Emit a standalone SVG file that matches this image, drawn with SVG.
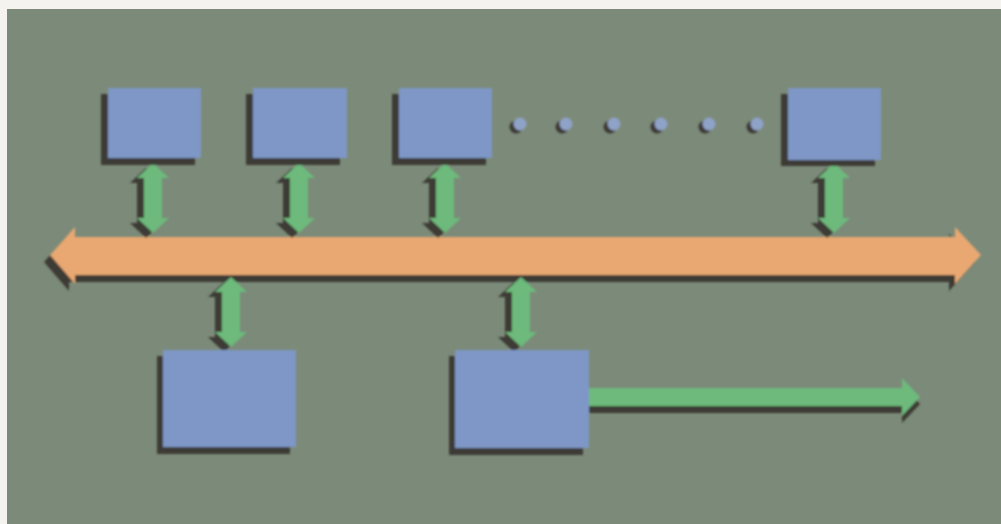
<svg xmlns="http://www.w3.org/2000/svg" width="1001" height="524" viewBox="0 0 1001 524">
  <style>
    .panel { fill: #7c8b79; }
    .box { fill: #7e97c6; }
    .shadow { fill: #3d3a36; }
    .link { fill: #6dba7c; }
    .bus { fill: #e9a872; }
    .dot { fill: #8fa2c8; }
  </style>
  <defs>
    <!-- vertical two-headed link, centred on the origin -->
    <path id="dbl" d="M0,-35 L16,-20 L9,-20 L9,20 L16,20 L0,35 L-16,20 L-9,20 L-9,-20 L-16,-20 Z"/>
    <filter id="soft" x="-5%" y="-5%" width="110%" height="110%">
      <feGaussianBlur stdDeviation="0.8"/>
    </filter>
  </defs>

  <rect width="1001" height="524" fill="#f4f3ef"/>
  <rect class="panel" x="7" y="9" width="994" height="515"/>

  <g filter="url(#soft)">
    <!-- connectors -->
    <g id="connectors">
      <!-- shared bus -->
      <path class="shadow" transform="translate(-6,7)" d="M50,255 L75,227 L75,237 L955,237 L955,227 L981,255 L955,284 L955,275 L75,275 L75,284 Z"/>
      <path class="bus" d="M50,255 L75,227 L75,237 L955,237 L955,227 L981,255 L955,284 L955,275 L75,275 L75,284 Z"/>

      <!-- links between top units and bus -->
      <use href="#dbl" class="shadow" transform="translate(146,203)"/>
      <use href="#dbl" class="link" transform="translate(153,198)"/>
      <use href="#dbl" class="shadow" transform="translate(292,203)"/>
      <use href="#dbl" class="link" transform="translate(299,198)"/>
      <use href="#dbl" class="shadow" transform="translate(438,203)"/>
      <use href="#dbl" class="link" transform="translate(445,198)"/>
      <use href="#dbl" class="shadow" transform="translate(827,203)"/>
      <use href="#dbl" class="link" transform="translate(834,198)"/>

      <!-- links between bus and lower units -->
      <use href="#dbl" class="shadow" transform="translate(224,317)"/>
      <use href="#dbl" class="link" transform="translate(231,312)"/>
      <use href="#dbl" class="shadow" transform="translate(514,317)"/>
      <use href="#dbl" class="link" transform="translate(521,312)"/>

      <!-- output arrow -->
      <path class="shadow" transform="translate(0,7)" d="M589,388 L902,388 L902,378 L920,397 L902,416 L902,406 L589,406 Z"/>
      <path class="link" d="M589,388 L902,388 L902,378 L920,397 L902,416 L902,406 L589,406 Z"/>
    </g>

    <!-- top row of units -->
    <g id="unit-1">
      <rect class="shadow" x="101" y="94" width="94" height="71"/>
      <rect class="box" x="108" y="88" width="93" height="70"/>
    </g>
    <g id="unit-2">
      <rect class="shadow" x="246" y="94" width="94" height="71"/>
      <rect class="box" x="253" y="88" width="94" height="70"/>
    </g>
    <g id="unit-3">
      <rect class="shadow" x="392" y="94" width="94" height="71"/>
      <rect class="box" x="399" y="88" width="93" height="70"/>
    </g>
    <g id="unit-n">
      <rect class="shadow" x="781" y="94" width="94" height="72"/>
      <rect class="box" x="788" y="88" width="93" height="72"/>
    </g>

    <!-- ellipsis dots -->
    <g id="ellipsis">
      <g class="shadow">
        <circle cx="516" cy="127" r="6.5"/>
        <circle cx="562" cy="127" r="6.5"/>
        <circle cx="610" cy="127" r="6.5"/>
        <circle cx="657" cy="127" r="6.5"/>
        <circle cx="705" cy="127" r="6.5"/>
        <circle cx="753" cy="127" r="6.5"/>
      </g>
      <g class="dot">
        <circle cx="520" cy="124" r="6.5"/>
        <circle cx="566" cy="124" r="6.5"/>
        <circle cx="614" cy="124" r="6.5"/>
        <circle cx="661" cy="124" r="6.5"/>
        <circle cx="709" cy="124" r="6.5"/>
        <circle cx="757" cy="124" r="6.5"/>
      </g>
    </g>

    <!-- lower units -->
    <g id="unit-a">
      <rect class="shadow" x="157" y="356" width="133" height="98"/>
      <rect class="box" x="163" y="350" width="133" height="97"/>
    </g>
    <g id="unit-b">
      <rect class="shadow" x="449" y="356" width="134" height="99"/>
      <rect class="box" x="455" y="350" width="134" height="98"/>
    </g>
  </g>
</svg>
